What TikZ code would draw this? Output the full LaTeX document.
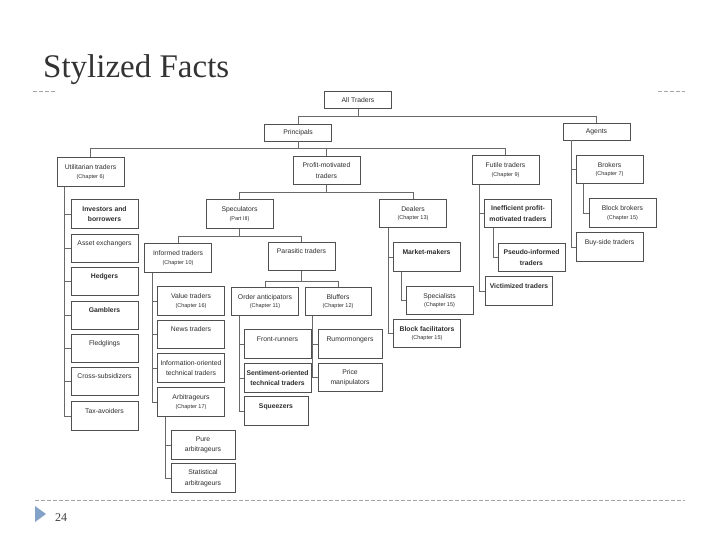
\documentclass[tikz,border=0pt]{standalone}
\usepackage{fontspec}
\setmainfont{Liberation Serif}
\setsansfont{Liberation Sans}
\usepackage{tikz}
\usetikzlibrary{positioning}
\definecolor{boxline}{RGB}{80,80,80}
\definecolor{linkgray}{RGB}{105,105,105}
\definecolor{dashgray}{RGB}{165,165,165}
\definecolor{bulletblue}{RGB}{130,162,200}
\definecolor{inkgray}{RGB}{45,45,45}
\tikzset{
  tradebox/.style={draw=boxline, line width=0.7pt, fill=white,
    minimum width=67pt, minimum height=28.5pt, inner sep=0pt,
    align=center, font=\fontsize{6.8}{10.5}\sffamily, text=inkgray},
  boldbox/.style={tradebox, font=\fontsize{6.8}{10.5}\sffamily\bfseries},
  headbox/.style={tradebox, minimum height=17pt},
  link/.style={draw=linkgray, line width=0.55pt},
  slideline/.style={dashgray, line width=0.6pt, dash pattern=on 4pt off 2pt},
}
\newcommand{\chap}[1]{\\[-2pt]{\mdseries\fontsize{5.5}{7}\selectfont (#1)}}
\newcommand{\blank}{\\\mbox{}}

\begin{document}
\begin{tikzpicture}[x=1pt, y=1pt]
  \useasboundingbox (0,0) rectangle (720,-540);

  % Slide frame
  \node[anchor=base west, inner sep=0pt, text=black!80,
        font=\fontsize{33}{36}\selectfont] (title) at (43,-78) {Stylized Facts};
  \draw[slideline] (33,-91) -- (56,-91);
  \draw[slideline] (658,-91) -- (685,-91);
  \draw[slideline] (35,-500) -- (685,-500);
  \fill[bulletblue] (35,-506) -- (46,-514) -- (35,-522) -- cycle;
  \node[anchor=base west, inner sep=0pt, text=black!75,
        font=\fontsize{12}{14}\selectfont] (pagenum) at (55,-521) {24};

  % Top levels
  \node[headbox] (all) at (358,-100) {All Traders};
  \node[headbox] (principals) at (298,-132.5) {Principals};
  \node[headbox] (agents) at (596.5,-131.5) {Agents};

  \node[tradebox] (util) at (90.5,-172) {Utilitarian traders\chap{Chapter 6}};
  \node[tradebox] (profit) at (326.5,-170.5) {Profit-motivated\\traders};
  \node[tradebox] (futile) at (505.5,-170) {Futile traders\chap{Chapter 9}};
  \node[tradebox] (brokers) at (609.5,-169.5) {Brokers\chap{Chapter 7}};

  % Utilitarian traders
  \node[boldbox] (invest) at (104.5,-214) {Investors and\\borrowers};
  \node[tradebox] (asset) at (104.5,-248.5) {Asset exchangers\blank};
  \node[boldbox] (hedgers) at (104.5,-281.5) {Hedgers\blank};
  \node[boldbox] (gamblers) at (104.5,-315.5) {Gamblers\blank};
  \node[tradebox] (fledg) at (104.5,-348.5) {Fledglings\blank};
  \node[tradebox] (cross) at (104.5,-381.5) {Cross-subsidizers\blank};
  \node[tradebox] (tax) at (104.5,-416) {Tax-avoiders\blank};

  % Profit-motivated traders
  \node[tradebox] (spec) at (239.5,-214) {Speculators\chap{Part III}};
  \node[tradebox] (dealers) at (413,-213.5) {Dealers\chap{Chapter 13}};
  \node[tradebox] (informed) at (178,-258) {Informed traders\chap{Chapter 10}};
  \node[tradebox] (parasitic) at (301.5,-256.5) {Parasitic traders\blank};

  \node[tradebox] (value) at (191,-301) {Value traders\chap{Chapter 16}};
  \node[tradebox] (news) at (191,-334.5) {News traders\blank};
  \node[tradebox] (infotech) at (191,-368) {Information-oriented\\technical traders};
  \node[tradebox] (arbs) at (191,-402) {Arbitrageurs\chap{Chapter 17}};
  \node[tradebox, minimum width=64pt] (pure) at (203,-445) {Pure\\arbitrageurs};
  \node[tradebox, minimum width=64pt] (stat) at (203,-478) {Statistical\\arbitrageurs};

  \node[tradebox] (orderant) at (265,-301.5) {Order anticipators\chap{Chapter 11}};
  \node[tradebox, minimum width=66pt] (bluffers) at (338,-301.5) {Bluffers\chap{Chapter 12}};
  \node[tradebox] (frontrun) at (277.5,-344) {Front-runners\blank};
  \node[boldbox] (senttech) at (277.5,-378) {Sentiment-oriented\\technical traders};
  \node[boldbox, minimum width=64pt] (squeeze) at (276,-411) {Squeezers\blank};
  \node[tradebox, minimum width=64pt] (rumor) at (350,-344) {Rumormongers\blank};
  \node[tradebox, minimum width=64pt] (pricemanip) at (350,-377.5) {Price\\manipulators};

  \node[boldbox] (mmakers) at (426.5,-257) {Market-makers\blank};
  \node[tradebox] (special) at (439.5,-300.5) {Specialists\chap{Chapter 15}};
  \node[boldbox] (blockfac) at (427,-333.5) {Block facilitators\chap{Chapter 15}};

  % Futile traders
  \node[boldbox] (ineff) at (518,-213.5) {Inefficient profit-\\motivated traders};
  \node[boldbox] (pseudo) at (531.5,-257.5) {Pseudo-informed\\traders};
  \node[boldbox] (victim) at (519,-291) {Victimized traders\blank};

  % Agents
  \node[tradebox] (blockbrk) at (622.5,-213) {Block brokers\chap{Chapter 15}};
  \node[tradebox] (buyside) at (609.5,-247) {Buy-side traders\blank};

  % Buses
  \coordinate (abus) at (0,-116);
  \coordinate (pbus) at (0,-148);
  \coordinate (sbus) at (0,-192);
  \coordinate (ibus) at (0,-236);
  \coordinate (obus) at (0,-281);

  \draw[link] (all.south) -- (all.south |- abus);
  \draw[link] (principals.north) |- (agents.north |- abus) -- (agents.north);

  \draw[link] (principals.south) -- (principals.south |- pbus);
  \draw[link] (util.north) |- (futile.north |- pbus) -- (futile.north);
  \draw[link] (profit.north) -- (profit.north |- pbus);

  \draw[link] (profit.south) -- (profit.south |- sbus);
  \draw[link] (spec.north) |- (dealers.north |- sbus) -- (dealers.north);

  \draw[link] (spec.south) -- (spec.south |- ibus);
  \draw[link] (informed.north) |- (parasitic.north |- ibus) -- (parasitic.north);

  \draw[link] (parasitic.south) -- (parasitic.south |- obus);
  \draw[link] (orderant.north) |- (bluffers.north |- obus) -- (bluffers.north);

  % Hanging children
  \foreach \kid in {invest,asset,hedgers,gamblers,fledg,cross,tax}
    \draw[link] ([xshift=8pt]util.south west) |- (\kid.west);
  \foreach \kid in {value,news,infotech,arbs}
    \draw[link] ([xshift=8pt]informed.south west) |- (\kid.west);
  \foreach \kid in {pure,stat}
    \draw[link] ([xshift=8pt]arbs.south west) |- (\kid.west);
  \foreach \kid in {frontrun,senttech,squeeze}
    \draw[link] ([xshift=8pt]orderant.south west) |- (\kid.west);
  \foreach \kid in {rumor,pricemanip}
    \draw[link] ([xshift=8pt]bluffers.south west) |- (\kid.west);
  \foreach \kid in {mmakers,blockfac}
    \draw[link] ([xshift=9pt]dealers.south west) |- (\kid.west);
  \draw[link] ([xshift=9pt]mmakers.south west) |- (special.west);
  \foreach \kid in {ineff,victim}
    \draw[link] ([xshift=8pt]futile.south west) |- (\kid.west);
  \draw[link] ([xshift=9pt]ineff.south west) |- (pseudo.west);
  \foreach \kid in {brokers,buyside}
    \draw[link] ([xshift=9pt]agents.south west) |- (\kid.west);
  \draw[link] ([xshift=8pt]brokers.south west) |- (blockbrk.west);
\end{tikzpicture}
\end{document}
